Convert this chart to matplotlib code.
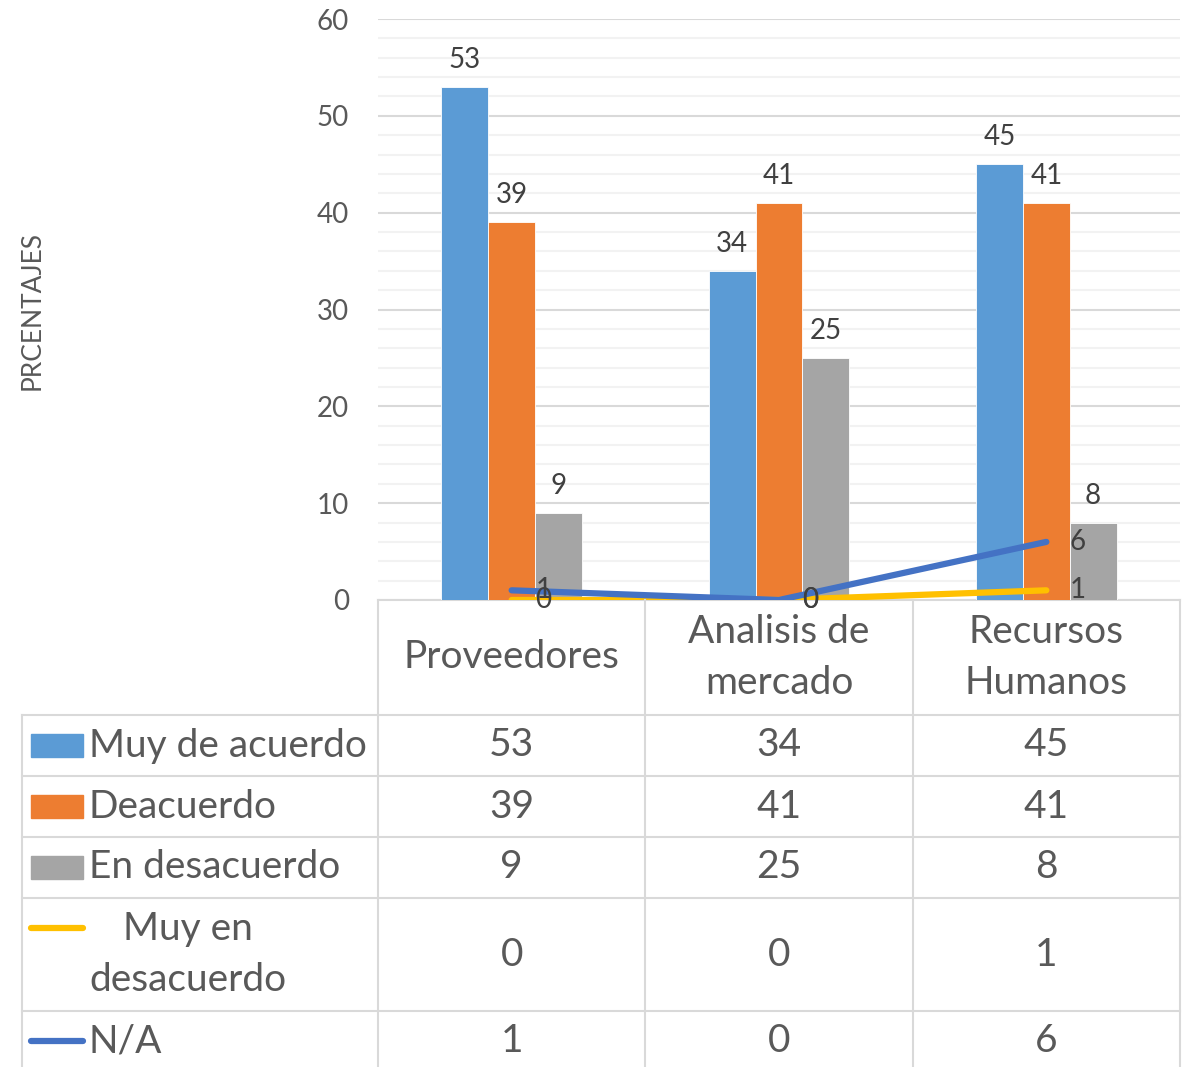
import matplotlib
matplotlib.use('Agg')
import matplotlib.pyplot as plt
import numpy as np

# data
categories = ['Proveedores', 'Analisis de\nmercado', 'Recursos\nHumanos']
bar_series = ['Muy de acuerdo', 'Deacuerdo', 'En desacuerdo']
muy_de_acuerdo = [53, 34, 45]
deacuerdo = [39, 41, 41]
en_desacuerdo = [9, 25, 8]
muy_en_desacuerdo = [0, 0, 1]
na = [1, 0, 6]

bar_colors = ['#5B9BD5', '#ED7D31', '#A5A5A5']
line_colors = ['#FFC000', '#4472C4']
text_col = '#595959'
grid_col = '#D9D9D9'

plt.rcParams['font.family'] = ['Lato', 'DejaVu Sans']

W, H = 1185, 1067
fig = plt.figure(figsize=(W / 100, H / 100), dpi=100)

# plot area in pixel layout
x0, x1 = 378, 1180
y_top, y_bot = 19, 600
ax = fig.add_axes([x0 / W, 1 - y_bot / H, (x1 - x0) / W, (y_bot - y_top) / H])

x = np.arange(len(categories))
bw = 0.175
for i, (vals, c) in enumerate(zip([muy_de_acuerdo, deacuerdo, en_desacuerdo], bar_colors)):
    bars = ax.bar(x + (i - 1) * bw, vals, bw, color=c, edgecolor='white', linewidth=0.6, zorder=3)
    for b, v in zip(bars, vals):
        ax.annotate(str(v), (b.get_x() + b.get_width() / 2, v), xytext=(0, 10),
                    textcoords='offset points', ha='center', va='bottom',
                    fontsize=20, color='#404040', zorder=5)

for vals, c in zip([muy_en_desacuerdo, na], line_colors):
    ax.plot(x, vals, color=c, linewidth=4.5, solid_capstyle='round', zorder=4)
    for xi, v in zip(x, vals):
        ax.annotate(str(v), (xi, v), xytext=(17, 0), textcoords='offset points',
                    ha='left', va='center', fontsize=20, color='#404040', zorder=5)

ax.set_xlim(-0.5, len(categories) - 0.5)
ax.set_ylim(0, 60)
ax.set_yticks(np.arange(0, 61, 10))
ax.set_yticks(np.arange(0, 61, 2), minor=True)
ax.grid(axis='y', which='major', color=grid_col, linewidth=1.5, zorder=0)
ax.grid(axis='y', which='minor', color='#F2F2F2', linewidth=1.5, zorder=0)
ax.tick_params(axis='y', which='both', length=0, pad=21, labelsize=20, labelcolor=text_col)
ax.set_xticks([])
for s in ['top', 'right', 'left']:
    ax.spines[s].set_visible(False)
ax.spines['bottom'].set_color(grid_col)
ax.spines['bottom'].set_linewidth(1.5)

fig.text(32 / W, 1 - 311 / H, 'PRCENTAJES', rotation=90, ha='center', va='center',
         fontsize=19, color=text_col)

# data table underneath, drawn on an overlay in pixel coordinates
tab = fig.add_axes([0, 0, 1, 1])
tab.set_xlim(0, W)
tab.set_ylim(H, 0)
tab.axis('off')

col_w = (x1 - x0) / len(categories)
col_edges = [x0 + k * col_w for k in range(len(categories) + 1)]
col_cent = [x0 + (k + 0.5) * col_w for k in range(len(categories))]
row_edges = [715, 776, 837, 898, 1011, H]
left = 22

lkw = dict(color=grid_col, linewidth=1.5)
for xe in col_edges:
    tab.plot([xe, xe], [y_bot, H], **lkw)
tab.plot([left, left], [row_edges[0], H], **lkw)
for ye in row_edges[:-1]:
    tab.plot([left, x1], [ye, ye], **lkw)

for cx, cat in zip(col_cent, categories):
    tab.text(cx, (y_bot + row_edges[0]) / 2, cat, ha='center', va='center',
             fontsize=28, color=text_col, linespacing=1.5)

series_names = bar_series + ['Muy en\ndesacuerdo', 'N/A']
series_vals = [muy_de_acuerdo, deacuerdo, en_desacuerdo, muy_en_desacuerdo, na]
series_cols = bar_colors + line_colors
for r, (name, vals, c) in enumerate(zip(series_names, series_vals, series_cols)):
    yc = (row_edges[r] + row_edges[r + 1]) / 2
    if r == 4:
        yc = 1041
    if r < 3:
        tab.add_patch(plt.Rectangle((31, yc - 12), 52, 23, color=c))
    else:
        ky = yc - 27 if r == 3 else yc
        tab.plot([31, 83], [ky, ky], color=c, linewidth=4.5, solid_capstyle='round')
    tab.text(89, yc, name, ha='left', va='center', fontsize=28, color=text_col,
             multialignment='center', linespacing=1.5)
    for cx, v in zip(col_cent, vals):
        tab.text(cx, yc, str(v), ha='center', va='center', fontsize=28, color=text_col)

fig.savefig('out.png', dpi=100)
